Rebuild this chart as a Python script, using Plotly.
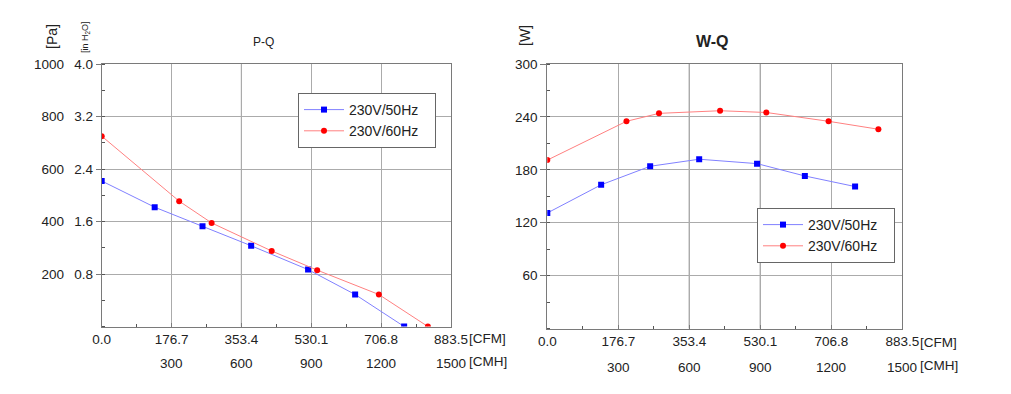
import plotly.graph_objects as go

# ---- data ----
cfm_ticks = [0.0, 176.7, 353.4, 530.1, 706.8, 883.5]
cmh_ticks = [300, 600, 900, 1200, 1500]
pa_ticks = [200, 400, 600, 800, 1000]
inh2o_ticks = [0.8, 1.6, 2.4, 3.2, 4.0]
w_ticks = [60, 120, 180, 240, 300]

series_names = ["230V/50Hz", "230V/60Hz"]

pq_50_q = [0, 134, 255, 378, 522, 641, 765]
pq_50_p = [555, 455, 382, 308, 217, 122, 0]
pq_60_q = [0, 196, 278, 430, 545, 701, 825]
pq_60_p = [726, 478, 395, 288, 215, 122, 0]

wq_50_q = [0, 134, 256, 378, 522, 641, 766]
wq_50_w = [131, 163, 184, 192, 187, 173, 161]
wq_60_q = [0, 197, 278, 430, 545, 700, 824]
wq_60_w = [191, 235, 244, 247, 245, 235, 226]

CMH_PER_CFM = 1500 / 883.5
PA_PER_INH2O = 250.0

FONT = "Liberation Sans, Arial, sans-serif"
BLUE_LINE = "#8080ff"
RED_LINE = "#ff8080"
GRID = "#ababab"
AXLINE = "#7a7a7a"
TXT = "#222222"
TICK_SIZE = 13.5
PAD = "\u00a0" * 3

fig = go.Figure()

def add_pair(xa, ya, q50, v50, q60, v60, legend):
    fig.add_trace(go.Scatter(x=q50, y=v50, xaxis=xa, yaxis=ya, mode="lines+markers",
                             name=series_names[0] + PAD, legend=legend,
                             line=dict(color=BLUE_LINE, width=1),
                             marker=dict(symbol="square", size=6, color="#0000ff")))
    fig.add_trace(go.Scatter(x=q60, y=v60, xaxis=xa, yaxis=ya, mode="lines+markers",
                             name=series_names[1] + PAD, legend=legend,
                             line=dict(color=RED_LINE, width=1),
                             marker=dict(symbol="circle", size=6, color="#ff0000")))

add_pair("x", "y", pq_50_q, pq_50_p, pq_60_q, pq_60_p, "legend")
add_pair("x2", "y2", wq_50_q, wq_50_w, wq_60_q, wq_60_w, "legend2")

# invisible trace to carry the in H2O axis
fig.add_trace(go.Scatter(x=[0], y=[0], xaxis="x", yaxis="y3", mode="markers",
                         marker=dict(opacity=0), showlegend=False, hoverinfo="skip"))

def xaxis_cfg(domain):
    return dict(domain=domain, range=[0, 883.5], tickvals=cfm_ticks,
                ticktext=["%.1f" % v for v in cfm_ticks],
                showgrid=True, gridcolor=GRID, gridwidth=1,
                showline=True, linecolor=AXLINE, linewidth=1, mirror=True,
                ticks="inside", ticklen=4, tickcolor=AXLINE,
                minor=dict(ticks="inside", ticklen=3, tickcolor="#555", dtick=883.5 / 10,
                           tick0=0, showgrid=False),
                tickfont=dict(size=TICK_SIZE, color=TXT, family=FONT),
                zeroline=False, fixedrange=True, automargin=False)

fig.update_layout(
    width=1011, height=394,
    margin=dict(l=0, r=0, t=0, b=0, autoexpand=False),
    paper_bgcolor="white", plot_bgcolor="white",
    font=dict(family=FONT, color=TXT, size=13),
    xaxis=xaxis_cfg([101.7 / 1011, 451 / 1011]),
    xaxis2=dict(**xaxis_cfg([547.3 / 1011, 902.3 / 1011]), anchor="y2"),
    yaxis=dict(domain=[1 - 326.5 / 394, 1 - 64.3 / 394], range=[0, 1000],
               tickvals=pa_ticks, ticktext=[str(v) for v in pa_ticks],
               showgrid=True, gridcolor=GRID, showline=True, linecolor=AXLINE,
               mirror=True, ticks="outside", ticklen=5, tickcolor=AXLINE,
               minor=dict(ticks="inside", ticklen=3, tickcolor="#555", dtick=100, showgrid=False),
               ticklabelstandoff=29, automargin=False,
               tickfont=dict(size=TICK_SIZE, color=TXT, family=FONT), zeroline=False),
    yaxis3=dict(overlaying="y", anchor="x", side="left",
                range=[0, 1000 / PA_PER_INH2O], tickvals=inh2o_ticks,
                ticktext=["%.1f" % v for v in inh2o_ticks],
                showgrid=False, showline=False, ticks="outside", ticklen=5,
                tickcolor=AXLINE, tickfont=dict(size=TICK_SIZE, color=TXT, family=FONT),
                zeroline=False, automargin=False),
    yaxis2=dict(domain=[1 - 328.5 / 394, 1 - 64 / 394], range=[0, 300], anchor="x2",
                tickvals=w_ticks, ticktext=[str(v) for v in w_ticks],
                showgrid=True, gridcolor=GRID, showline=True, linecolor=AXLINE,
                mirror=True, ticks="outside", ticklen=6, tickcolor=AXLINE,
                minor=dict(ticks="inside", ticklen=3, tickcolor="#555", dtick=30, showgrid=False),
                tickfont=dict(size=TICK_SIZE, color=TXT, family=FONT), zeroline=False,
                automargin=False),
    legend=dict(x=298 / 1011, y=1 - 93 / 394, xanchor="left", yanchor="top",
                bgcolor="white", bordercolor="#666", borderwidth=1,
                font=dict(size=14, color=TXT, family=FONT), tracegroupgap=0,
                itemwidth=40),
    legend2=dict(x=757 / 1011, y=1 - 208 / 394, xanchor="left", yanchor="top",
                 bgcolor="white", bordercolor="#666", borderwidth=1,
                 font=dict(size=14, color=TXT, family=FONT), tracegroupgap=0,
                 itemwidth=40),
    showlegend=True,
)

# darker grid lines
shapes = []
for xr, yr, xs in [("x", "y domain", [353.4]), ("x2", "y2 domain", [353.4, 530.1])]:
    for xv in xs:
        shapes.append(dict(type="line", xref=xr, yref=yr, x0=xv, x1=xv, y0=0, y1=1,
                           line=dict(color="#4a4a4a", width=1), layer="below"))
fig.update_layout(shapes=shapes)

ann = []
# CMH row + unit labels
for xr, ycfm, ycmh in [("x", 1 - 338.5 / 394, 1 - 363 / 394), ("x2", 1 - 342 / 394, 1 - 367 / 394)]:
    for c in cmh_ticks:
        ann.append(dict(x=c / CMH_PER_CFM, y=ycmh, xref=xr, yref="paper", text=str(c),
                        showarrow=False, xanchor="center", yanchor="middle",
                        font=dict(size=TICK_SIZE, color=TXT, family=FONT)))
    ann.append(dict(x=883.5, y=ycfm, xref=xr, yref="paper", text="[CFM]", showarrow=False,
                    xanchor="left", yanchor="middle", xshift=16,
                    font=dict(size=TICK_SIZE, color=TXT, family=FONT)))
    ann.append(dict(x=883.5, y=ycmh, xref=xr, yref="paper", text="[CMH]", showarrow=False,
                    xanchor="left", yanchor="middle", xshift=16, yshift=2,
                    font=dict(size=TICK_SIZE, color=TXT, family=FONT)))

def label(x, y, text, size, angle=0):
    return dict(x=x / 1011, y=1 - y / 394, xref="paper", yref="paper", text=text,
                textangle=angle, showarrow=False, xanchor="center", yanchor="middle",
                font=dict(size=size, color=TXT, family=FONT))

# titles
ann.append(label(263, 42, "P-Q", 12))
ann.append(label(712, 42, "<b>W-Q</b>", 16))
# axis unit titles
ann.append(label(52, 37, "[Pa]", 14, -90))
ann.append(label(85, 37, "[in H<sub>2</sub>O]", 9, -90))
ann.append(label(525, 36, "[W]", 14, -90))
fig.update_layout(annotations=ann)

fig.write_html("out.html", config={"displayModeBar": False},
               post_script="document.body.style.margin='0px';document.body.style.overflow='hidden';")
